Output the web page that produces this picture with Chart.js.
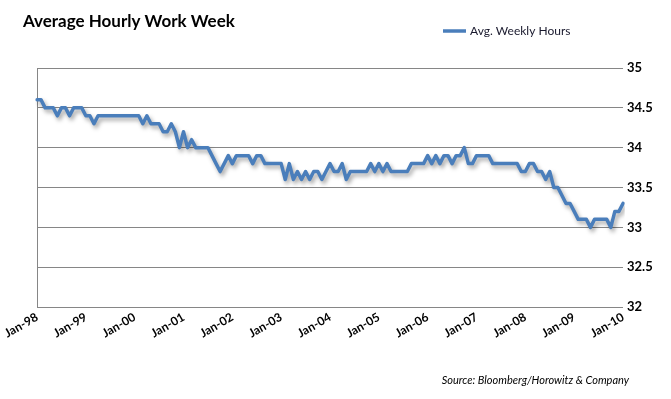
<!DOCTYPE html>
<html lang="en">
<head>
    <meta charset="UTF-8">
    <title>Average Hourly Work Week</title>
    <style>
        html, body { margin: 0; padding: 0; background: #fff; }
        #wrap { position: relative; width: 671px; height: 399px; }
    </style>
</head>
<body>
<div id="wrap">
    <canvas id="myChart" width="671" height="399"></canvas>
</div>

<script src="https://cdn.jsdelivr.net/npm/chart.js"></script>
<script>
// categories: monthly, Jan-98 .. Jan-10
const years = ['98','99','00','01','02','03','04','05','06','07','08','09','10']
const months = ['Jan','Feb','Mar','Apr','May','Jun','Jul','Aug','Sep','Oct','Nov','Dec']

// avg weekly hours, one value per month
const hours1998 = [34.6,34.6,34.5,34.5,34.5,34.4,34.5,34.5,34.4,34.5,34.5,34.5]
const hours1999 = [34.4,34.4,34.3,34.4,34.4,34.4,34.4,34.4,34.4,34.4,34.4,34.4]
const hours2000 = [34.4,34.4,34.3,34.4,34.3,34.3,34.3,34.2,34.2,34.3,34.2,34.0]
const hours2001 = [34.2,34.0,34.1,34.0,34.0,34.0,34.0,33.9,33.8,33.7,33.8,33.9]
const hours2002 = [33.8,33.9,33.9,33.9,33.9,33.8,33.9,33.9,33.8,33.8,33.8,33.8]
const hours2003 = [33.8,33.6,33.8,33.6,33.7,33.6,33.7,33.6,33.7,33.7,33.6,33.7]
const hours2004 = [33.8,33.7,33.7,33.8,33.6,33.7,33.7,33.7,33.7,33.7,33.8,33.7]
const hours2005 = [33.8,33.7,33.8,33.7,33.7,33.7,33.7,33.7,33.8,33.8,33.8,33.8]
const hours2006 = [33.9,33.8,33.9,33.8,33.9,33.9,33.8,33.9,33.9,34.0,33.8,33.8]
const hours2007 = [33.9,33.9,33.9,33.9,33.8,33.8,33.8,33.8,33.8,33.8,33.8,33.7]
const hours2008 = [33.7,33.8,33.8,33.7,33.7,33.6,33.7,33.5,33.5,33.4,33.3,33.3]
const hours2009 = [33.2,33.1,33.1,33.1,33.0,33.1,33.1,33.1,33.1,33.0,33.2,33.2]
const hours2010 = [33.3]

const yTicks = [32, 32.5, 33, 33.5, 34, 34.5, 35]

const labels = []
years.forEach(function(y, i){
    const n = (i === years.length - 1) ? 1 : 12
    for (let m = 0; m < n; m++) labels.push(months[m] + '-' + y)
})
const weeklyHours = [].concat(hours1998, hours1999, hours2000, hours2001, hours2002,
    hours2003, hours2004, hours2005, hours2006, hours2007, hours2008, hours2009, hours2010)

const lineBlue = '#4A7EBB'
const fontName = 'Lato, "Open Sans", sans-serif'

// title, legend and source note, plus a soft shadow under the line
const decor = {
    id: 'decor',
    beforeDatasetDraw(chart){
        const ctx = chart.ctx
        ctx.save()
        ctx.shadowColor = 'rgba(0,0,0,0.35)'
        ctx.shadowBlur = 4
        ctx.shadowOffsetX = 2
        ctx.shadowOffsetY = 3
    },
    afterDatasetDraw(chart){
        chart.ctx.restore()
    },
    afterDraw(chart){
        const ctx = chart.ctx
        ctx.save()
        ctx.fillStyle = '#000'
        ctx.textBaseline = 'alphabetic'
        ctx.textAlign = 'left'
        ctx.font = 'bold 17px ' + fontName
        ctx.fillText('Average Hourly Work Week', 23, 27)

        ctx.strokeStyle = lineBlue
        ctx.lineWidth = 3.5
        ctx.beginPath()
        ctx.moveTo(443, 31)
        ctx.lineTo(466, 31)
        ctx.stroke()
        ctx.font = '12px ' + fontName
        ctx.fillStyle = '#1a1a2e'
        ctx.textBaseline = 'middle'
        ctx.fillText('Avg. Weekly Hours', 470, 31)

        ctx.font = 'italic 11px ' + fontName
        ctx.fillStyle = '#000'
        ctx.textAlign = 'right'
        ctx.fillText('Source: Bloomberg/Horowitz & Company', 629, 380)
        ctx.restore()
    }
}

const ctx = document.getElementById('myChart')
const chart = new Chart(ctx, {
    type: 'line',
    data: {
        labels: labels,
        datasets: [{
            label: 'Avg. Weekly Hours',
            data: weeklyHours,
            borderColor: lineBlue,
            backgroundColor: lineBlue,
            borderWidth: 3.5,
            borderJoinStyle: 'round',
            borderCapStyle: 'round',
            pointRadius: 0,
            tension: 0
        }]
    },
    options: {
        responsive: false,
        animation: false,
        layout: { padding: { top: 68, left: 37, right: 0, bottom: 52 } },
        plugins: {
            legend: { display: false },
            title: { display: false },
            tooltip: { enabled: false }
        },
        scales: {
            x: {
                type: 'category',
                offset: false,
                border: { display: false },
                grid: {
                    drawTicks: false,
                    color: function(c){ return c.index === 0 ? '#868686' : 'rgba(0,0,0,0)' }
                },
                ticks: {
                    autoSkip: false,
                    minRotation: 30,
                    maxRotation: 30,
                    padding: 3,
                    color: '#000',
                    font: { family: fontName, size: 12, weight: 'bold' },
                    callback: function(v, i){ return i % 12 === 0 ? this.getLabelForValue(v) : '' }
                },
                afterFit: function(s){ s.height = 40 }
            },
            y: {
                position: 'right',
                min: yTicks[0],
                max: yTicks[yTicks.length - 1],
                border: { display: false },
                grid: { color: '#868686', drawTicks: false },
                afterBuildTicks: function(s){ s.ticks = yTicks.map(function(v){ return { value: v } }) },
                ticks: {
                    padding: 4,
                    color: '#000',
                    font: { family: fontName, size: 13, weight: 'bold' },
                    callback: function(v){ return String(v) }
                },
                afterFit: function(s){ s.width = 48 }
            }
        }
    },
    plugins: [decor]
})
</script>
</body>
</html>
